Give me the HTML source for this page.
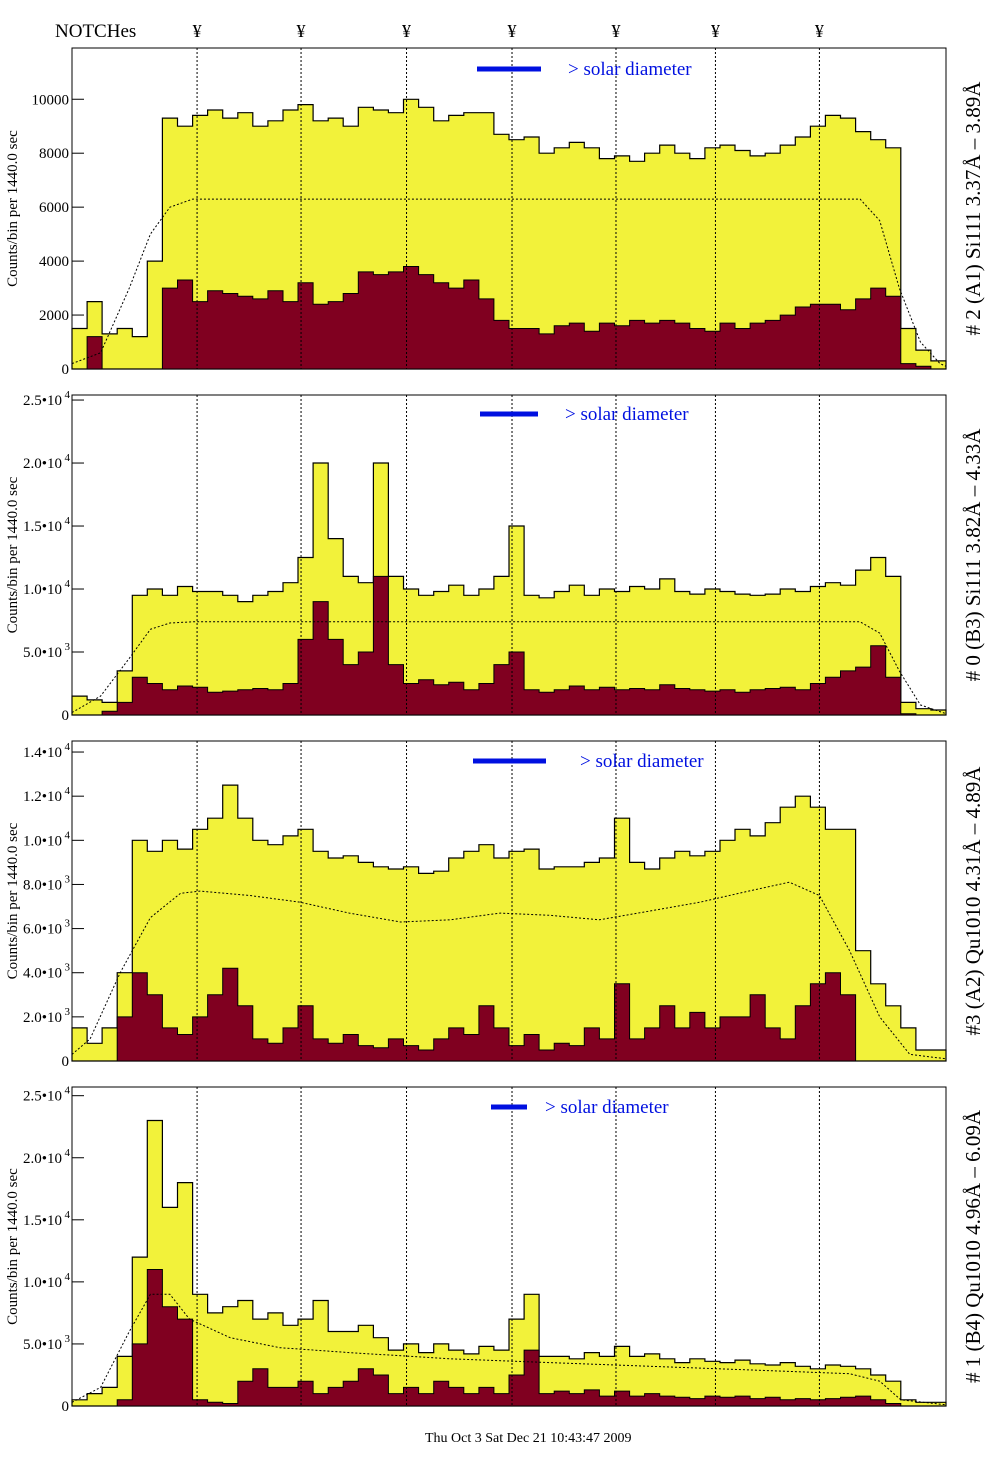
<!DOCTYPE html>
<html><head><meta charset="utf-8">
<style>
body{margin:0;background:#fff;}
svg{display:block;font-family:"Liberation Serif",serif;}
</style></head>
<body>
<svg id="chart" width="1004" height="1476" viewBox="0 0 1004 1476" xmlns="http://www.w3.org/2000/svg">
<text x="55" y="37" font-size="19">NOTCHes</text>
</svg>
<script>
// ---- data (units: counts for panel 1, thousands of counts for panels 2-4) ----
const notchBins = [8.3, 15.2, 22.2, 29.2, 36.1, 42.7, 49.6];
const notchLabels = ["¥","¥","¥","¥","¥","¥","¥"];

const p1Yellow = [1500,2500,1300,1500,1200,4000,9300,9000,9400,9600,9300,9500,9000,9200,9600,9800,9200,9300,9000,9700,9600,9500,10000,9700,9200,9400,9500,9500,8700,8500,8600,8000,8200,8400,8200,7800,7900,7700,8000,8300,8000,7800,8200,8300,8100,7900,8000,8300,8600,9000,9400,9300,8800,8500,8200,1500,700,300];
const p1Red = [0,1200,0,0,0,0,3000,3300,2500,2900,2800,2700,2600,2900,2500,3200,2400,2500,2800,3600,3500,3600,3800,3500,3200,3000,3300,2600,1800,1500,1500,1300,1600,1700,1400,1700,1600,1800,1700,1800,1700,1500,1400,1700,1500,1700,1800,2000,2300,2400,2400,2200,2600,3000,2700,200,100,0];
const p1ModelBins = [0,1.9,3.8,5.2,6.5,8,52.3,53.6,54.9,56.3,57.6,58];
const p1ModelVals = [200,600,3000,5000,6000,6300,6300,5500,3000,1000,200,100];
const p1Ticks = [0,2000,4000,6000,8000,10000];
const p1TickLabels = ["0","2000","4000","6000","8000","10000"];

const p2Yellow = [1.5,1.2,1.0,3.5,9.5,10.0,9.5,10.2,9.8,9.8,9.5,9.0,9.5,9.8,10.5,12.5,20,14,11,10.5,20,11,10,9.5,9.8,10.3,9.5,10,11,15,9.5,9.3,9.8,10.3,9.5,10,9.8,10.2,10,10.8,9.8,9.6,10,9.8,9.6,9.5,9.6,10,9.8,10.2,10.5,10.3,11.5,12.5,11,1.0,0.5,0.4];
const p2Red = [0,0,0.3,1.0,3.0,2.5,2.0,2.3,2.2,1.8,1.9,2.0,2.1,2.0,2.5,6,9,6,4,5,11,4,2.5,2.8,2.4,2.6,2.0,2.5,4,5,2.0,1.8,2.0,2.3,2.0,2.2,2.0,2.1,2.0,2.4,2.1,2.0,1.9,2.0,1.8,2.0,2.1,2.2,2.0,2.5,3.0,3.5,3.8,5.5,3,0.1,0,0];
const p2ModelBins = [0,1.9,3.8,5.2,6.5,8,52.3,53.6,54.9,56.3,58];
const p2ModelVals = [0.2,1.5,4.5,6.8,7.3,7.4,7.4,6.5,3.5,0.8,0.1];
const p2Ticks = [0,5,10,15,20,25];
const p2TickLabels = ["0","5.0•10","1.0•10","1.5•10","2.0•10","2.5•10"];
const p2TickExp = ["","3","4","4","4","4"];

const p3Yellow = [1.5,0.8,1.5,4,10,9.5,10,9.6,10.5,11,12.5,11,10,9.8,10.2,10.5,9.5,9.2,9.3,9,8.8,8.7,8.8,8.5,8.6,9.2,9.5,9.8,9.2,9.5,9.6,8.7,8.8,8.8,9,9.2,11,9,8.7,9.2,9.5,9.3,9.5,10,10.5,10.2,10.8,11.5,12,11.5,10.5,10.5,5,3.5,2.5,1.5,0.5,0.5];
const p3Red = [0,0,0,2,4,3,1.5,1.2,2.0,3.0,4.2,2.5,1.0,0.8,1.5,2.5,1.0,0.8,1.2,0.7,0.6,1.0,0.7,0.5,1.0,1.5,1.2,2.5,1.5,0.7,1.2,0.5,0.8,0.7,1.5,1.0,3.5,1.0,1.5,2.5,1.5,2.2,1.5,2.0,2.0,3.0,1.5,1.0,2.5,3.5,4.0,3.0,0,0,0,0,0,0];
const p3ModelBins = [0,1.2,3.2,5.2,7.2,8.5,11.8,15.1,18.4,21.8,25.1,28.4,31.7,35.0,38.4,41.7,44.9,47.6,49.6,51.6,53.6,55.6,58];
const p3ModelVals = [0.3,1.0,4,6.5,7.6,7.7,7.5,7.2,6.7,6.3,6.4,6.7,6.6,6.4,6.8,7.2,7.7,8.1,7.5,5,2,0.3,0.1];
const p3Ticks = [0,2,4,6,8,10,12,14];
const p3TickLabels = ["0","2.0•10","4.0•10","6.0•10","8.0•10","1.0•10","1.2•10","1.4•10"];
const p3TickExp = ["","3","3","3","3","4","4","4"];

const p4Yellow = [0.5,1.0,1.5,4,12,23,16,18,9,7.5,8,8.5,7,7.5,6.5,7,8.5,6,6,6.5,5.5,4.5,5,4.3,5,4.5,4.2,4.8,4.5,7,9,4,4,3.8,4.3,4,4.8,4,4.2,3.8,3.5,3.8,3.6,3.5,3.7,3.4,3.3,3.5,3.2,3.0,3.3,3.2,3.0,2.5,2.0,0.5,0.3,0.3];
const p4Red = [0,0,0,0.5,5,11,8,7,0.5,0.3,0.2,2,3,1.5,1.5,2,1,1.5,2,3,2.5,1,1.5,1,2,1.5,1,1.5,1,2.5,4.5,1,1.2,1,1.3,0.8,1.2,0.8,1,0.8,0.7,0.6,0.8,0.7,0.8,0.6,0.7,0.5,0.6,0.5,0.6,0.7,0.8,0.5,0.2,0,0,0];
const p4ModelBins = [0,1.9,3.8,5.2,6.5,7.8,10.5,13.8,18.4,25.1,31.7,38.4,45.1,51.6,53.6,55,58];
const p4ModelVals = [0.3,1.5,6,9,9,7,5.5,4.7,4.3,3.8,3.5,3.2,2.9,2.6,2,0.5,0.1];
const p4Ticks = [0,5,10,15,20,25];
const p4TickLabels = ["0","5.0•10","1.0•10","1.5•10","2.0•10","2.5•10"];
const p4TickExp = ["","3","4","4","4","4"];

const legendText = "> solar diameter";
const titles = ["# 2 (A1) Si111  3.37Å – 3.89Å","# 0 (B3) Si111  3.82Å – 4.33Å","#3 (A2) Qu1010  4.31Å – 4.89Å","# 1 (B4) Qu1010 4.96Å – 6.09Å"];

// ---- layout ----
const NS="http://www.w3.org/2000/svg";
const svg=document.getElementById('chart');
const X0=72, X1=946, NB=58;
function xScale(b){return X0+(X1-X0)*b/NB;}
function mk(tag,attrs,parent){const e=document.createElementNS(NS,tag);for(const k in attrs)e.setAttribute(k,attrs[k]);(parent||svg).appendChild(e);return e;}

const panels=[
 {top:48,bot:369,max:11900,yellow:p1Yellow,red:p1Red,mb:p1ModelBins,mv:p1ModelVals,ticks:p1Ticks,labels:p1TickLabels,exp:null,leg:[477,541,568,69]},
 {top:395,bot:715,max:25.4,yellow:p2Yellow,red:p2Red,mb:p2ModelBins,mv:p2ModelVals,ticks:p2Ticks,labels:p2TickLabels,exp:p2TickExp,leg:[480,538,565,414]},
 {top:741,bot:1061,max:14.5,yellow:p3Yellow,red:p3Red,mb:p3ModelBins,mv:p3ModelVals,ticks:p3Ticks,labels:p3TickLabels,exp:p3TickExp,leg:[473,546,580,761]},
 {top:1087,bot:1406,max:25.7,yellow:p4Yellow,red:p4Red,mb:p4ModelBins,mv:p4ModelVals,ticks:p4Ticks,labels:p4TickLabels,exp:p4TickExp,leg:[491,527,545,1107]}
];

// notch marks
notchBins.forEach((b,i)=>{
  const t=mk('text',{x:xScale(b),y:37,'font-size':18,'text-anchor':'middle'});
  t.textContent=notchLabels[i];
  
  
});

panels.forEach((p,pi)=>{
  const g=mk('g',{});
  
  
  const yS=v=>p.bot-(p.bot-p.top)*v/p.max;
  function histPath(arr){
    let d='M'+X0+','+p.bot;
    arr.forEach((v,i)=>{const y=yS(v).toFixed(1);d+=' L'+xScale(i).toFixed(1)+','+y+' L'+xScale(i+1).toFixed(1)+','+y;});
    d+=' L'+X1+','+p.bot+' Z';return d;
  }
  const yel=mk('path',{d:histPath(p.yellow),fill:'#f2f23a',stroke:'#000','stroke-width':1.2},g);
  
  
  const red=mk('path',{d:histPath(p.red),fill:'#800020',stroke:'#000','stroke-width':1},g);
  
  
  let md='';
  p.mb.forEach((b,i)=>{md+=(i?' L':'M')+xScale(b).toFixed(1)+','+yS(p.mv[i]).toFixed(1);});
  const mdl=mk('path',{d:md,fill:'none',stroke:'#000','stroke-width':1,'stroke-dasharray':'2,2'},g);
  
  
  notchBins.forEach(b=>{
    const l=mk('line',{x1:xScale(b),x2:xScale(b),y1:p.top,y2:p.bot,stroke:'#000','stroke-width':1,'stroke-dasharray':'2,2'},g);
    
    
  });
  const fr=mk('rect',{x:X0,y:p.top,width:X1-X0,height:p.bot-p.top,fill:'none',stroke:'#000','stroke-width':1},g);
  
  
  p.ticks.forEach((v,i)=>{
    const y=yS(v);
    mk('line',{x1:X0,x2:X0+12,y1:y,y2:y,stroke:'#000'},g);
    const t=mk('text',{x:X0-3,y:y+5,'font-size':15,'text-anchor':'end'},g);
    t.textContent=p.labels[i];
    if(p.exp&&p.exp[i]){
      t.setAttribute('x',X0-10);
      const s=mk('text',{x:X0-2,y:y-2,'font-size':11,'text-anchor':'end'},g);
      s.textContent=p.exp[i];
      
      
    }
    
    
  });
  const cy=(p.top+p.bot)/2;
  const yt=mk('text',{x:0,y:0,'font-size':15,'text-anchor':'middle',transform:'translate(17,'+cy+') rotate(-90)'},g);
  yt.textContent='Counts/bin per   1440.0 sec';
  
  
  const rt=mk('text',{x:0,y:0,'font-size':21,'text-anchor':'middle',transform:'translate(980,'+cy+') rotate(-90)'},g);
  rt.textContent=titles[pi];
  
  
  const L=p.leg;
  const ll=mk('line',{x1:L[0],x2:L[1],y1:L[3],y2:L[3],stroke:'#0010e0','stroke-width':5},g);
  
  
  const lt=mk('text',{x:L[2],y:L[3]+6,'font-size':19,fill:'#0010e0'},g);
  lt.textContent=legendText;
  
  
});

const ft=mk('text',{x:425,y:1442,'font-size':14});
ft.textContent='Thu Oct 3  Sat Dec 21 10:43:47 2009';


</script>
</body></html>
